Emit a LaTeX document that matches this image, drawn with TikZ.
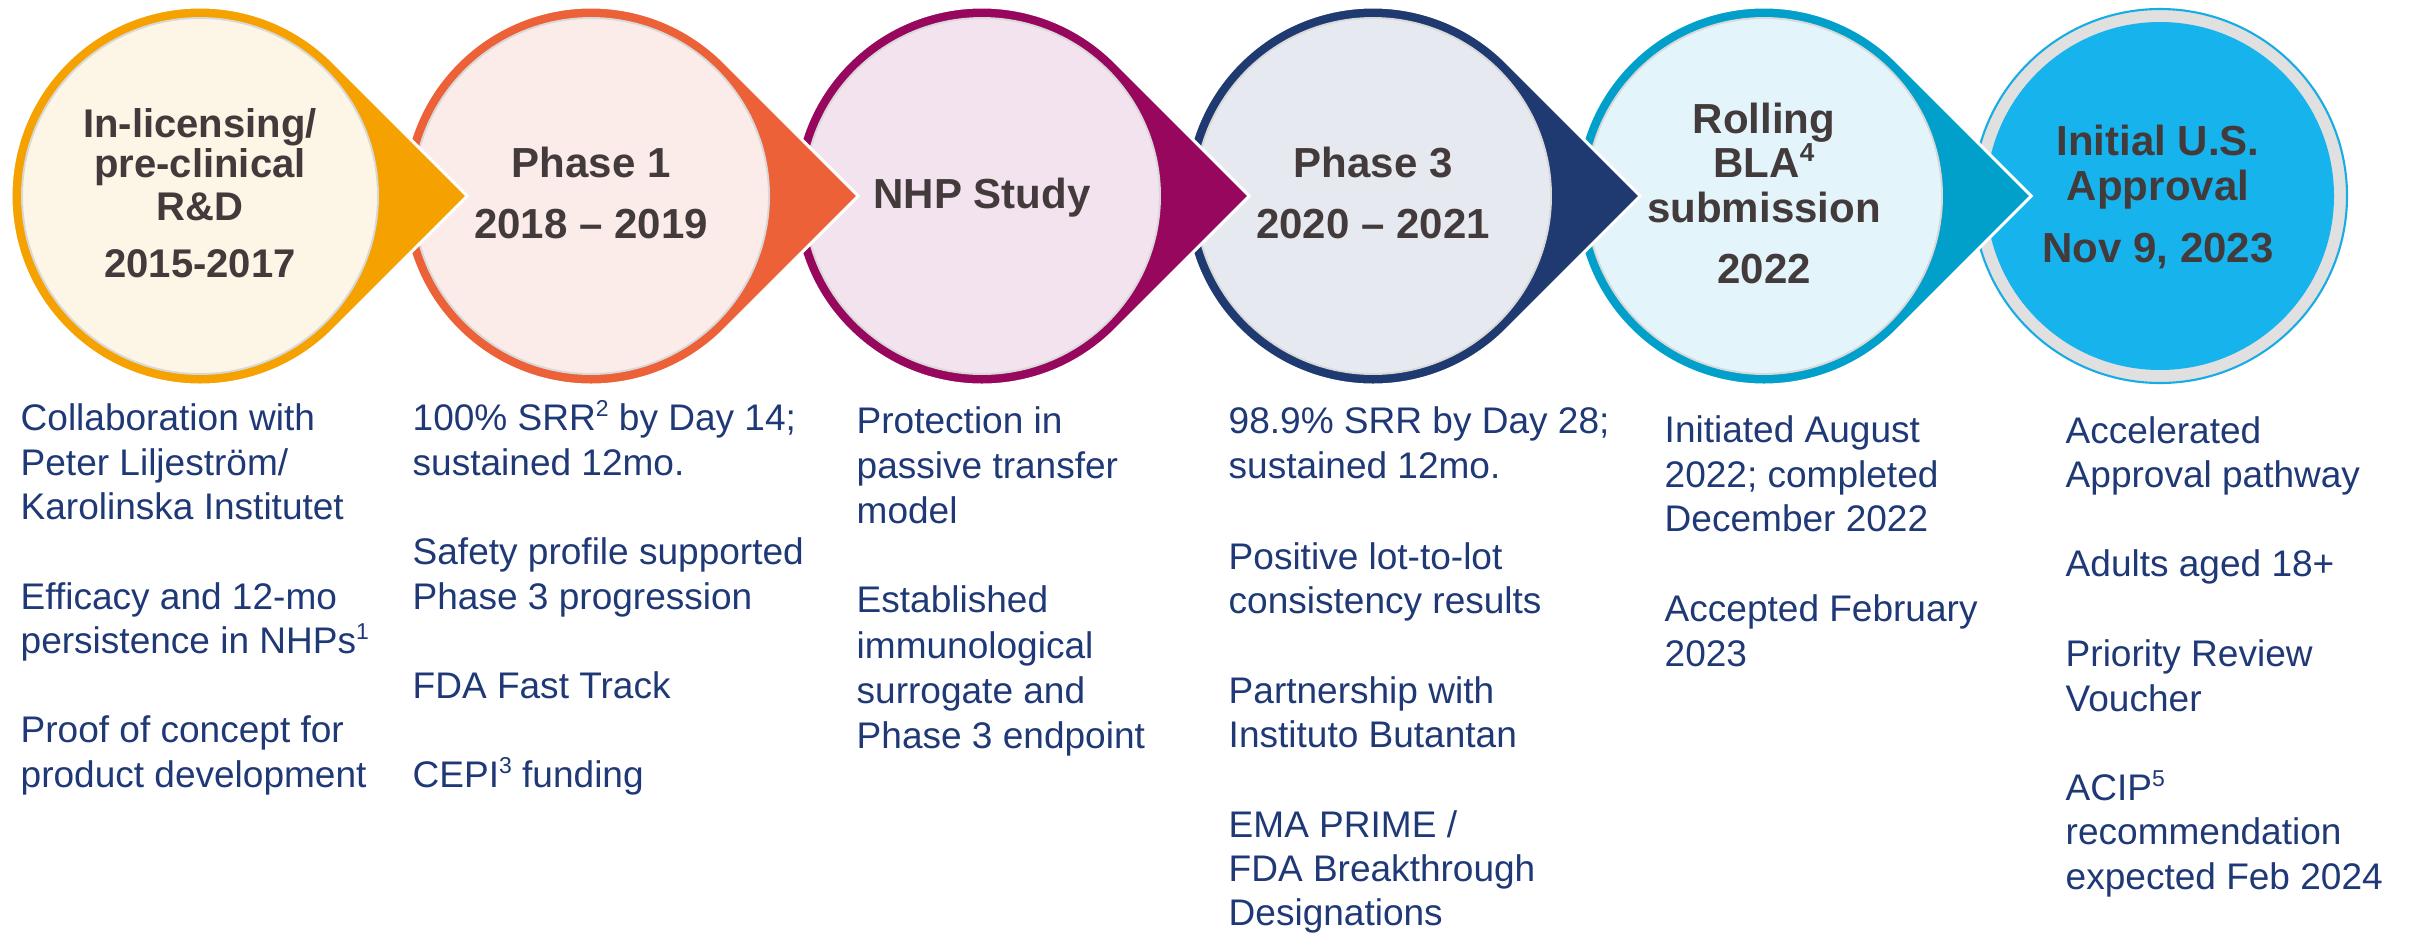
\documentclass[tikz,border=0pt]{standalone}
\usepackage{fontspec}
\setmainfont{Liberation Sans}

\definecolor{ringA}{RGB}{245,161,0}
\definecolor{fillA}{RGB}{253,245,230}
\definecolor{ringB}{RGB}{236,97,55}
\definecolor{fillB}{RGB}{251,236,234}
\definecolor{ringC}{RGB}{151,7,94}
\definecolor{fillC}{RGB}{243,227,238}
\definecolor{ringD}{RGB}{31,58,113}
\definecolor{fillD}{RGB}{230,234,240}
\definecolor{ringE}{RGB}{0,160,203}
\definecolor{fillE}{RGB}{227,244,250}
\definecolor{finalblue}{RGB}{23,179,236}
\definecolor{finalline}{RGB}{24,172,229}
\definecolor{finalgrey}{RGB}{224,224,224}
\definecolor{innerline}{RGB}{216,216,216}
\definecolor{titlegrey}{RGB}{67,59,59}
\definecolor{bodyblue}{RGB}{31,56,118}

% one milestone: a disc with a pointed tip to the right, and a light inner disc
% #1 = centre x, #2 = ring colour, #3 = inner colour
\newcommand\stagedrop[3]{%
  \fill[#2, draw=white, line width=0.85pt, line join=miter]
    (#1,196) ++(45:189) arc[start angle=45, end angle=315, radius=189]
    -- (#1+267.3,196) -- cycle;
  \fill[#3, draw=innerline, line width=0.55pt] (#1,196) circle[radius=178];
}
% one line of the notes under a milestone
\newcommand\noteline[4]{\node[note] (#1) at (#2,#3) {#4};}
% small raised reference number
\newcommand\refmark[1]{\raisebox{0.36em}{\fontsize{0.62em}{0.7em}\selectfont #1}}

\begin{document}
\begin{tikzpicture}[x=0.01cm, y=-0.01cm,
  heading/.style={anchor=base, inner sep=0pt, text=titlegrey,
    font=\fontsize{11.95}{14}\bfseries\selectfont},
  headingsmall/.style={heading, font=\fontsize{11.38}{13.5}\bfseries\selectfont},
  note/.style={anchor=base west, inner sep=0pt, text=bodyblue,
    font=\fontsize{10.53}{12.6}\selectfont}]

\useasboundingbox (0,0) rectangle (2409,933);

% milestones, drawn right to left so each tip lies over the next disc
\fill[finalgrey, draw=finalline, line width=0.6pt] (2160,196) circle[radius=187];
\fill[finalblue] (2160,196) circle[radius=174];
\stagedrop{1764}{ringE}{fillE}
\stagedrop{1373}{ringD}{fillD}
\stagedrop{982}{ringC}{fillC}
\stagedrop{591}{ringB}{fillB}
\stagedrop{200}{ringA}{fillA}

% milestone headings
\node[headingsmall] (h1a) at (200,137) {In-licensing/};
\node[headingsmall] (h1b) at (200,177) {pre-clinical};
\node[headingsmall] (h1c) at (200,220) {R\&D};
\node[headingsmall] (h1d) at (200,277) {2015-2017};

\node[heading] (h2a) at (591,177) {Phase 1};
\node[heading] (h2b) at (591,238) {2018 – 2019};

\node[heading] (h3a) at (982,208) {NHP Study};

\node[heading] (h4a) at (1373,177) {Phase 3};
\node[heading] (h4b) at (1373,238) {2020 – 2021};

\node[heading] (h5a) at (1764,133) {Rolling};
\node[heading] (h5b) at (1764,177) {BLA\refmark{4}};
\node[heading] (h5c) at (1764,222) {submission};
\node[heading] (h5d) at (1764,283) {2022};

\node[heading] (h6a) at (2158,155) {Initial U.S.};
\node[heading] (h6b) at (2158,200) {Approval};
\node[heading] (h6c) at (2158,262) {Nov 9, 2023};

% notes, column 1
\noteline{n1a}{20}{430}{Collaboration with}
\noteline{n1b}{20}{475}{Peter Liljeström/}
\noteline{n1c}{20}{519}{Karolinska Institutet}
\noteline{n1d}{20}{609}{Efficacy and 12-mo}
\noteline{n1e}{20}{653}{persistence in NHPs\refmark{1}}
\noteline{n1f}{20}{742}{Proof of concept for}
\noteline{n1g}{20}{787}{product development}

% notes, column 2
\noteline{n2a}{412}{430}{100\% SRR\refmark{2} by Day 14;}
\noteline{n2b}{412}{475}{sustained 12mo.}
\noteline{n2c}{412}{564}{Safety profile supported}
\noteline{n2d}{412}{609}{Phase 3 progression}
\noteline{n2e}{412}{698}{FDA Fast Track}
\noteline{n2f}{412}{787}{CEPI\refmark{3} funding}

% notes, column 3
\noteline{n3a}{856}{433}{Protection in}
\noteline{n3b}{856}{478}{passive transfer}
\noteline{n3c}{856}{523}{model}
\noteline{n3d}{856}{612}{Established}
\noteline{n3e}{856}{658}{immunological}
\noteline{n3f}{856}{703}{surrogate and}
\noteline{n3g}{856}{748}{Phase 3 endpoint}

% notes, column 4
\noteline{n4a}{1228}{433}{98.9\% SRR by Day 28;}
\noteline{n4b}{1228}{478}{sustained 12mo.}
\noteline{n4c}{1228}{569}{Positive lot-to-lot}
\noteline{n4d}{1228}{613}{consistency results}
\noteline{n4e}{1228}{703}{Partnership with}
\noteline{n4f}{1228}{747}{Instituto Butantan}
\noteline{n4g}{1228}{837}{EMA PRIME /}
\noteline{n4h}{1228}{881}{FDA Breakthrough}
\noteline{n4i}{1228}{925}{Designations}

% notes, column 5
\noteline{n5a}{1664}{442}{Initiated August}
\noteline{n5b}{1664}{487}{2022; completed}
\noteline{n5c}{1664}{531}{December 2022}
\noteline{n5d}{1664}{621}{Accepted February}
\noteline{n5e}{1664}{666}{2023}

% notes, column 6
\noteline{n6a}{2065}{443}{Accelerated}
\noteline{n6b}{2065}{487}{Approval pathway}
\noteline{n6c}{2065}{576}{Adults aged 18+}
\noteline{n6d}{2065}{666}{Priority Review}
\noteline{n6e}{2065}{711}{Voucher}
\noteline{n6f}{2065}{800}{ACIP\refmark{5}}
\noteline{n6g}{2065}{844}{recommendation}
\noteline{n6h}{2065}{889}{expected Feb 2024}

\end{tikzpicture}
\end{document}
